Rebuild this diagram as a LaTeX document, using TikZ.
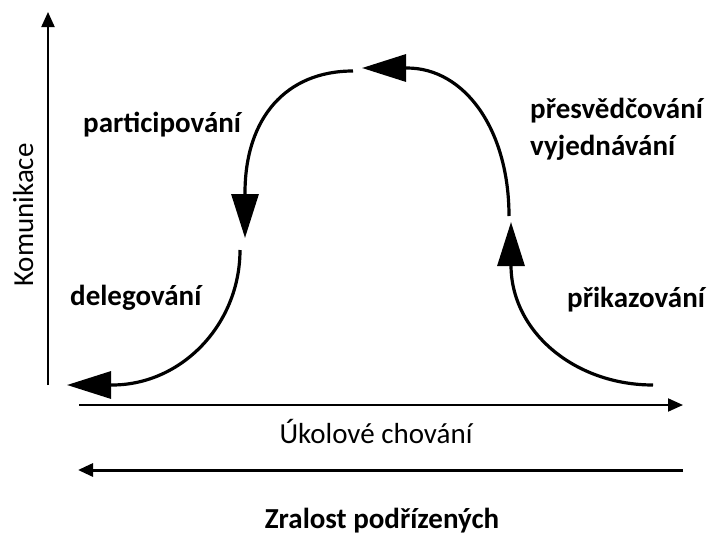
\documentclass[tikz,border=0pt]{standalone}
\usepackage{fontspec}
\setmainfont{Carlito}
\usetikzlibrary{arrows.meta}
\usetikzlibrary{positioning}

\begin{document}
\begin{tikzpicture}[x=1pt,y=-1pt,
  axis/.style={line width=2pt,-{Triangle[length=15pt,width=13pt]}},
  phase/.style={line width=3.2pt,-{Triangle[length=44pt,width=27pt]}},
  txt/.style={font=\fontsize{29}{35}\selectfont,inner sep=0pt,anchor=base},
  lbl/.style={font=\fontsize{29}{35}\selectfont\bfseries,inner sep=0pt,anchor=base west}]
\useasboundingbox (0,0) rectangle (712,538);

% axes
\coordinate (O) at (48,385);
\coordinate (Ytop) at (48,12);
\coordinate (Xl) at (79,405);
\coordinate (Xr) at (683,405);
\coordinate (Zr) at (683,470);
\coordinate (Zl) at (78,470);
\draw[axis] (O) -- (Ytop);
\draw[axis] (Xl) -- (Xr);
\draw[axis,line width=3pt] (Zr) -- (Zl);

\node[txt,rotate=90,anchor=base west] (kom) at (33,287) {Komunikace};
\node[txt] (ukol) at (376,443) {Úkolové chování};
\node[txt,font=\fontsize{29}{35}\selectfont\bfseries] (zral) at (382,528) {Zralost podřízených};

% the four phases
\coordinate (S1) at (653,385);
\coordinate (T1) at (511,222);
\coordinate (S2) at (509,216);
\coordinate (T2) at (362,68);
\coordinate (S3) at (353,71);
\coordinate (T3) at (245,238);
\coordinate (S4) at (240,250);
\coordinate (T4) at (67,385);
\draw[phase] (S1) .. controls (575,385) and (511,332) .. (511,265) -- (T1);
\draw[phase] (S2) .. controls (509,130) and (465,68) .. (407,68) -- (T2);
\draw[phase] (S3) .. controls (286,71) and (245,118) .. (245,193) -- (T3);
\draw[phase] (S4) .. controls (240,324) and (182,385) .. (112,385) -- (T4);

\node[lbl] (prik) at (567,307) {přikazování};
\node[lbl] (pres) at (530,118) {přesvědčování};
\node[lbl] (vyj) at (530,155) {vyjednávání};
\node[lbl] (part) at (83,132) {participování};
\node[lbl] (deleg) at (70,305) {delegování};

\end{tikzpicture}
\end{document}
